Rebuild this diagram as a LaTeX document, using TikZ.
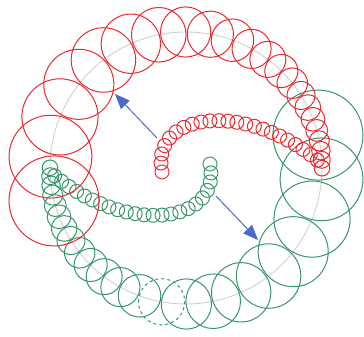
\documentclass[tikz,border=0pt]{standalone}
\usepackage{tikz}
\usetikzlibrary{arrows.meta,decorations.markings}

\definecolor{ringred}{RGB}{235,40,45}
\definecolor{ringgreen}{RGB}{55,150,105}
\definecolor{guidegray}{RGB}{205,208,210}
\definecolor{pushblue}{RGB}{75,105,200}

\begin{document}
\begin{tikzpicture}[x=1pt, y=-1pt,
        guide/.style={draw=guidegray, line width=0.9pt},
        redring/.style={draw=ringred, line width=1pt},
        greenring/.style={draw=ringgreen, line width=1pt},
        push/.style={draw=pushblue, line width=1pt, -{Triangle[length=15pt, width=12pt]}},
        beads/.style={decoration={markings,
            mark=between positions 0 and 1 step 9pt with {\draw[#1] (0,0) circle[radius=7];}}, decorate}]
        \useasboundingbox (0,0) rectangle (364,337);

        % guide circle
        \coordinate (hub) at (186,168);
        \draw[guide] (hub) circle[radius=136];

        % two trails, the green one is the red one turned half a turn
        \foreach \trail/\turn in {greenring/180, redring/0} {
            \begin{scope}[rotate around={\turn:(hub)}]
                % outer rings, shrinking along the guide circle
                \foreach \i in {0,...,21} {
                    \pgfmathsetmacro\rr{45*0.92^\i}
                    \pgfmathsetmacro\aa{166+0.4175*45*(1-0.92^\i)/0.08}
                    \ifnum\i=8
                        \ifnum\turn=180
                            \draw[\trail, dashed] (hub) ++(\aa:136) circle[radius=\rr];
                        \else
                            \draw[\trail] (hub) ++(\aa:136) circle[radius=\rr];
                        \fi
                    \else
                        \draw[\trail] (hub) ++(\aa:136) circle[radius=\rr];
                    \fi
                }
                % inner rings, curling back to the middle
                \path[beads=\trail] (162,172) .. controls (150,110) and (250,100) .. (323,165);
            \end{scope}
        }

        % arrows
        \coordinate (redtail) at (157,138);
        \coordinate (redtip) at (115,94);
        \coordinate (greentail) at (216,196);
        \coordinate (greentip) at (258,240);
        \draw[push] (redtail) -- (redtip);
        \draw[push] (greentail) -- (greentip);
\end{tikzpicture}
\end{document}
